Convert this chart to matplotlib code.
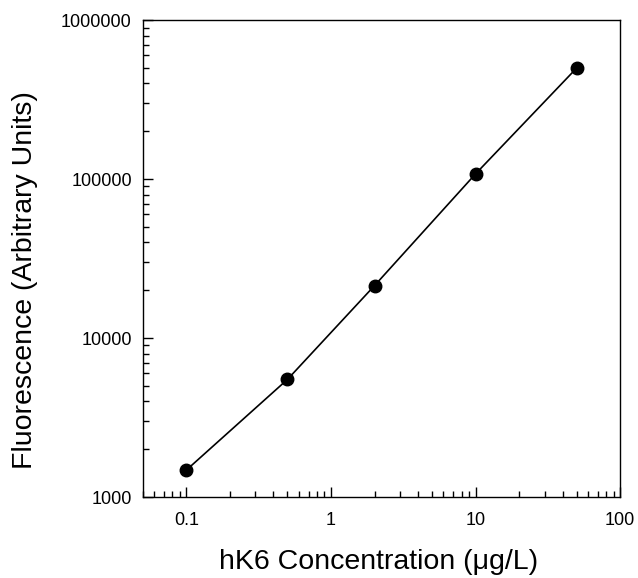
import numpy as np
import matplotlib.pyplot as plt
from matplotlib.ticker import LogLocator, FixedLocator, FixedFormatter, NullFormatter

plt.rcParams['font.family'] = ['Liberation Sans', 'DejaVu Sans']

# data
conc = [0.1, 0.5, 2, 10, 50]
fluor = [1480, 5500, 21400, 108000, 500000]

x_ticks = [0.1, 1, 10, 100]
x_labels = ['0.1', '1', '10', '100']
y_ticks = [1000, 10000, 100000, 1000000]
y_labels = ['1000', '10000', '100000', '1000000']

fig = plt.figure(figsize=(6.38, 5.78), dpi=100)
ax = fig.add_axes([0.224, 0.140, 0.748, 0.825])

ax.plot(conc, fluor, color='black', lw=1.2, marker='o', markersize=9,
        markerfacecolor='black', markeredgecolor='black')

ax.set_xscale('log')
ax.set_yscale('log')
ax.set_xlim(0.05, 100)
ax.set_ylim(1000, 1000000)

ax.xaxis.set_major_locator(FixedLocator(x_ticks))
ax.xaxis.set_major_formatter(FixedFormatter(x_labels))
ax.yaxis.set_major_locator(FixedLocator(y_ticks))
ax.yaxis.set_major_formatter(FixedFormatter(y_labels))
ax.xaxis.set_minor_locator(LogLocator(base=10, subs=np.arange(2, 10)))
ax.yaxis.set_minor_locator(LogLocator(base=10, subs=np.arange(2, 10)))
ax.xaxis.set_minor_formatter(NullFormatter())
ax.yaxis.set_minor_formatter(NullFormatter())

ax.tick_params(which='both', direction='in', top=False, right=False, width=1)
ax.tick_params(which='major', length=7, labelsize=13, pad=8)
ax.tick_params(axis='x', which='major', pad=11)
ax.tick_params(which='minor', length=4)

for s in ax.spines.values():
    s.set_linewidth(1)

fig.text(0.594, 1 - 562 / 578, 'hK6 Concentration (μg/L)', fontsize=20.5,
         ha='center', va='center')
fig.text(25 / 638, 1 - 280 / 578, 'Fluorescence (Arbitrary Units)', fontsize=20.5,
         ha='center', va='center', rotation=90)

fig.savefig('out.png', dpi=100)
